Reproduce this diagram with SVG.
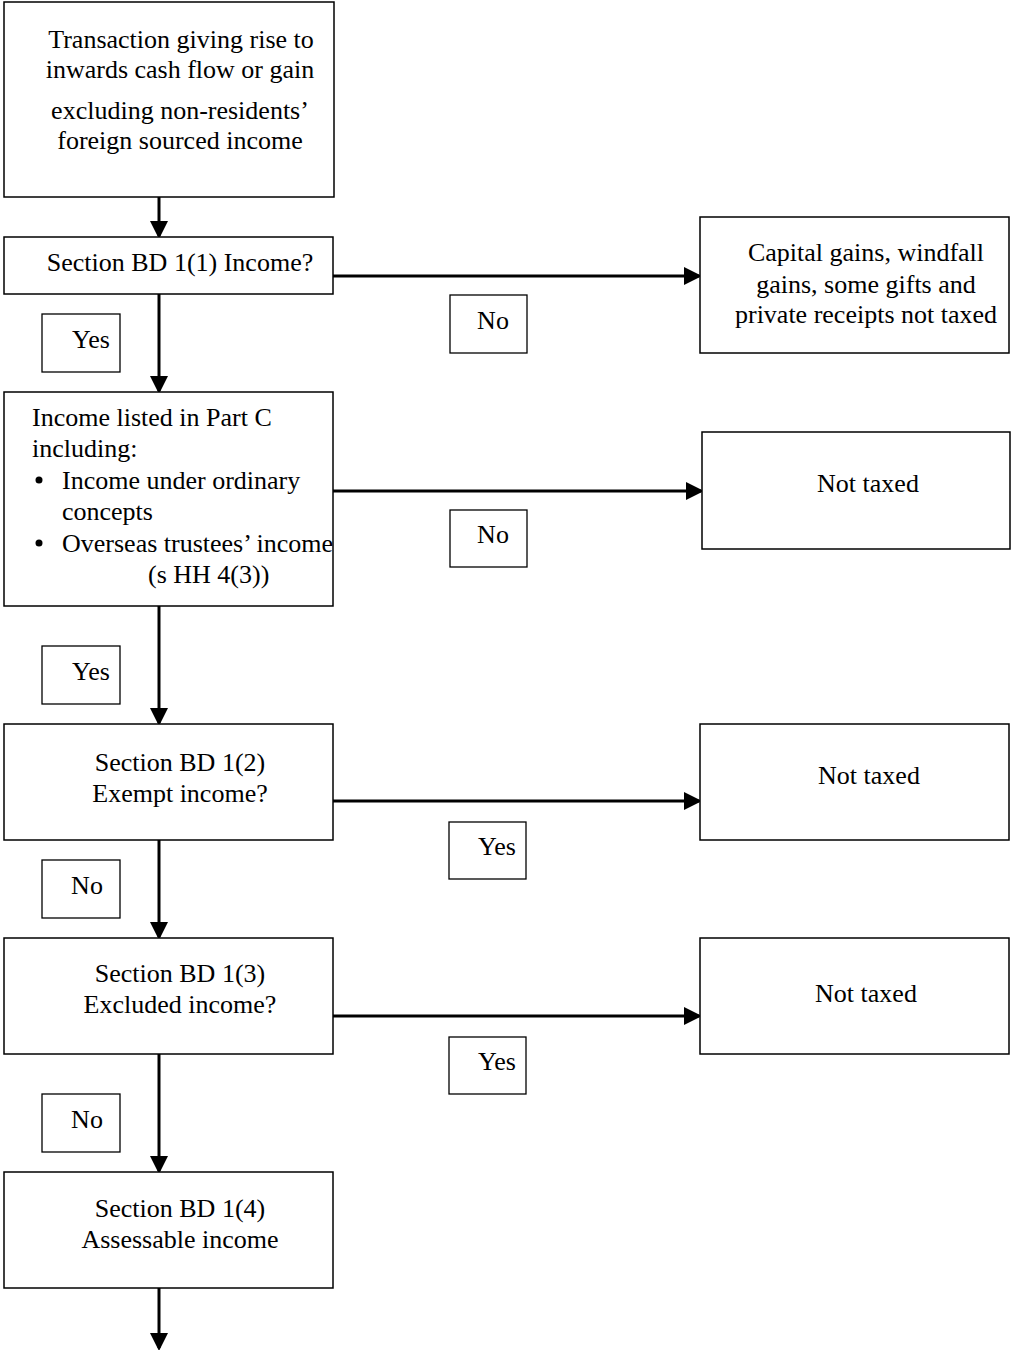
<svg xmlns="http://www.w3.org/2000/svg" width="1011" height="1350" viewBox="0 0 1011 1350">
<style>
.box{fill:#fff;stroke:#000;stroke-width:1.5}
.lbl{fill:#fff;stroke:#000;stroke-width:1.3}
text{font-family:"Liberation Serif","Times New Roman",serif;font-size:26px;fill:#000}
.c{text-anchor:middle}
.conn{stroke:#000;stroke-width:3;fill:none}
</style>
<defs>
<marker id="ah" markerWidth="6" markerHeight="6" refX="5" refY="3" orient="auto" markerUnits="strokeWidth" viewBox="0 0 6 6">
<path d="M0,0 L6,3 L0,6 Z" fill="#000"/>
</marker>
</defs>
<rect width="1011" height="1350" fill="#fff"/>
<g id="connectors">
<line class="conn" x1="159" y1="197" x2="159" y2="236" marker-end="url(#ah)"/>
<line class="conn" x1="159" y1="294" x2="159" y2="391" marker-end="url(#ah)"/>
<line class="conn" x1="159" y1="606" x2="159" y2="723" marker-end="url(#ah)"/>
<line class="conn" x1="159" y1="840" x2="159" y2="937" marker-end="url(#ah)"/>
<line class="conn" x1="159" y1="1054" x2="159" y2="1171" marker-end="url(#ah)"/>
<line class="conn" x1="159" y1="1288" x2="159" y2="1348" marker-end="url(#ah)"/>
<line class="conn" x1="333" y1="276" x2="699" y2="276" marker-end="url(#ah)"/>
<line class="conn" x1="333" y1="491" x2="701" y2="491" marker-end="url(#ah)"/>
<line class="conn" x1="333" y1="801" x2="699" y2="801" marker-end="url(#ah)"/>
<line class="conn" x1="333" y1="1016" x2="699" y2="1016" marker-end="url(#ah)"/>
</g>
<g id="n-start">
<rect class="box" x="4" y="2" width="330" height="195"/>
<text class="c" x="181" y="48">Transaction giving rise to</text>
<text class="c" x="180" y="78">inwards cash flow or gain</text>
<text class="c" x="180" y="119">excluding non-residents’</text>
<text class="c" x="180" y="149">foreign sourced income</text>
</g>
<g id="n-bd11">
<rect class="box" x="4" y="237" width="329" height="57"/>
<text class="c" x="180" y="271">Section BD 1(1) Income?</text>
</g>
<g id="n-capital">
<rect class="box" x="700" y="217" width="309" height="136"/>
<text class="c" x="866" y="261">Capital gains, windfall</text>
<text class="c" x="866" y="293">gains, some gifts and</text>
<text class="c" x="866" y="323">private receipts not taxed</text>
</g>
<g id="l-no1">
<rect class="lbl" x="450" y="295" width="77" height="58"/>
<text class="c" x="493" y="329">No</text>
</g>
<g id="l-yes1">
<rect class="lbl" x="42" y="314" width="78" height="58"/>
<text class="c" x="91" y="348">Yes</text>
</g>
<g id="n-partc">
<rect class="box" x="4" y="392" width="329" height="214"/>
<text x="32" y="426">Income listed in Part C</text>
<text x="32" y="457">including:</text>
<circle cx="39" cy="480" r="3.5"/>
<text x="62" y="489">Income under ordinary</text>
<text x="62" y="520">concepts</text>
<circle cx="39" cy="543" r="3.5"/>
<text x="62" y="552">Overseas trustees’ income</text>
<text x="148" y="583">(s HH 4(3))</text>
</g>
<g id="n-nottaxed1">
<rect class="box" x="702" y="432" width="308" height="117"/>
<text class="c" x="868" y="492">Not taxed</text>
</g>
<g id="l-no2">
<rect class="lbl" x="450" y="510" width="77" height="57"/>
<text class="c" x="493" y="543">No</text>
</g>
<g id="l-yes2">
<rect class="lbl" x="42" y="646" width="78" height="58"/>
<text class="c" x="91" y="680">Yes</text>
</g>
<g id="n-bd12">
<rect class="box" x="4" y="724" width="329" height="116"/>
<text class="c" x="180" y="771">Section BD 1(2)</text>
<text class="c" x="180" y="802">Exempt income?</text>
</g>
<g id="n-nottaxed2">
<rect class="box" x="700" y="724" width="309" height="116"/>
<text class="c" x="869" y="784">Not taxed</text>
</g>
<g id="l-yes3">
<rect class="lbl" x="449" y="822" width="77" height="57"/>
<text class="c" x="497" y="855">Yes</text>
</g>
<g id="l-no3">
<rect class="lbl" x="42" y="860" width="78" height="58"/>
<text class="c" x="87" y="894">No</text>
</g>
<g id="n-bd13">
<rect class="box" x="4" y="938" width="329" height="116"/>
<text class="c" x="180" y="982">Section BD 1(3)</text>
<text class="c" x="180" y="1013">Excluded income?</text>
</g>
<g id="n-nottaxed3">
<rect class="box" x="700" y="938" width="309" height="116"/>
<text class="c" x="866" y="1002">Not taxed</text>
</g>
<g id="l-yes4">
<rect class="lbl" x="449" y="1037" width="77" height="57"/>
<text class="c" x="497" y="1070">Yes</text>
</g>
<g id="l-no4">
<rect class="lbl" x="42" y="1094" width="78" height="58"/>
<text class="c" x="87" y="1128">No</text>
</g>
<g id="n-bd14">
<rect class="box" x="4" y="1172" width="329" height="116"/>
<text class="c" x="180" y="1217">Section BD 1(4)</text>
<text class="c" x="180" y="1248">Assessable income</text>
</g>
</svg>
